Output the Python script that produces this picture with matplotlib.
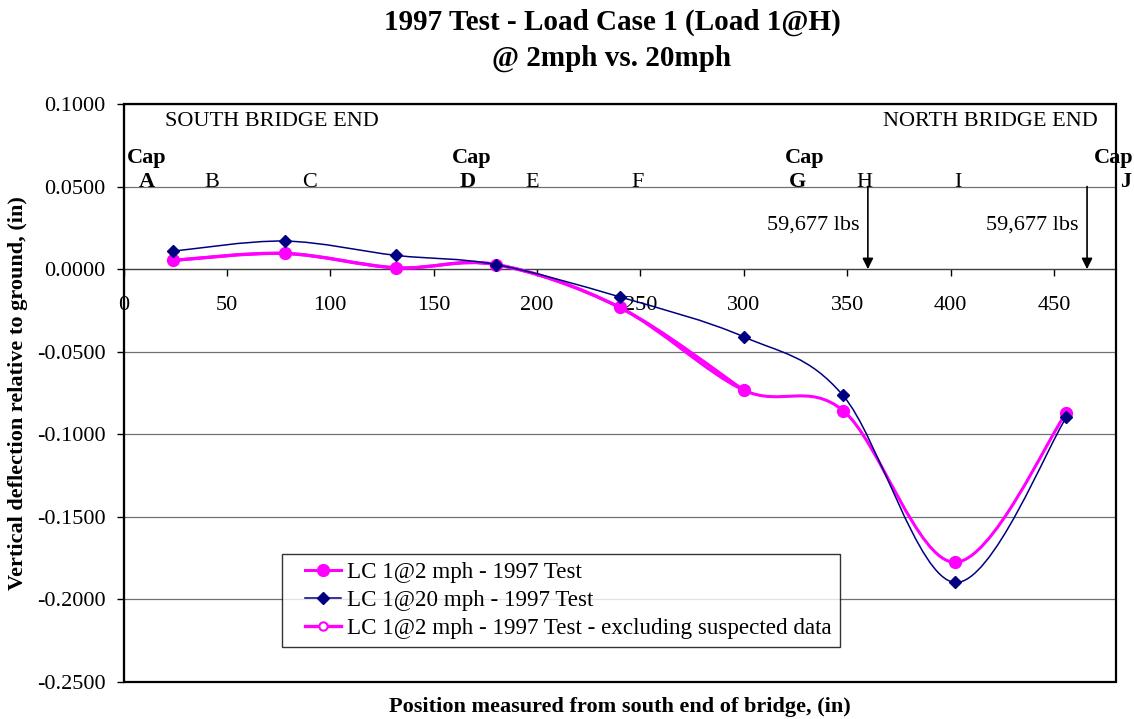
import numpy as np
import matplotlib
matplotlib.use('Agg')
import matplotlib.pyplot as plt
from matplotlib.path import Path
from matplotlib.patches import PathPatch, Rectangle
from matplotlib.lines import Line2D
from matplotlib.legend_handler import HandlerLine2D
from matplotlib.ticker import FuncFormatter, MultipleLocator

plt.rcParams['font.family'] = ['Liberation Serif', 'DejaVu Serif']

# data
pos = [24, 78, 132, 180, 240, 300, 348, 402, 456]
lc_2mph = [0.0053, 0.0095, 0.0008, 0.0028, -0.0232, -0.0733, -0.0856, -0.1775, -0.0870]
lc_20mph = [0.0109, 0.0170, 0.0083, 0.0028, -0.0168, -0.0410, -0.0765, -0.1897, -0.0898]
pos_excl = [24, 78, 132, 180, 240, 300]
lc_2mph_excl = [0.0053, 0.0095, 0.0008, 0.0028, -0.0232, -0.0733]

# support / station labels along the bridge
cap_x = [11.4, 168.2, 329.4, 479.0]
stations = ['A', 'B', 'C', 'D', 'E', 'F', 'G', 'H', 'I', 'J']
station_x = [11.4, 42.8, 89.8, 166.7, 197.7, 248.5, 326.0, 358.4, 403.4, 484.8]
cap_stations = ['A', 'D', 'G', 'J']
load_x = [360, 466]
load_text = '59,677 lbs'

MAGENTA = '#FF00FF'
NAVY = '#000080'


def smooth_path(x, y):
    # excel-like smoothed line: cubic bezier through the points
    p = np.column_stack([x, y]).astype(float)
    verts = [p[0]]
    codes = [Path.MOVETO]
    n = len(p)
    for i in range(n - 1):
        p0 = p[i - 1] if i > 0 else p[i]
        p1, p2 = p[i], p[i + 1]
        p3 = p[i + 2] if i + 2 < n else p[i + 1]
        verts += [p1 + (p2 - p0) / 6, p2 - (p3 - p1) / 6, p2]
        codes += [Path.CURVE4] * 3
    return Path(verts, codes)


fig = plt.figure(figsize=(11.34, 7.19), dpi=100)
ax = fig.add_axes([123.5 / 1134, 37 / 719, (1116 - 123.5) / 1134, 578 / 719])

ax.set_xlim(0, 480)
ax.set_ylim(-0.25, 0.1)

# series 3 (under), series 1, series 2
ax.add_patch(PathPatch(smooth_path(pos_excl, lc_2mph_excl), fill=False,
                       ec=MAGENTA, lw=2.4, zorder=3))
ax.plot(pos_excl, lc_2mph_excl, ls='none', marker='o', ms=6, mfc='white',
        mec=MAGENTA, mew=1.5, zorder=3)
ax.add_patch(PathPatch(smooth_path(pos, lc_2mph), fill=False,
                       ec=MAGENTA, lw=2.2, zorder=4))
ax.plot(pos, lc_2mph, ls='none', marker='o', ms=8.5, color=MAGENTA, zorder=4)
ax.add_patch(PathPatch(smooth_path(pos, lc_20mph), fill=False,
                       ec=NAVY, lw=1.1, zorder=5))
ax.plot(pos, lc_20mph, ls='none', marker='D', ms=6, color=NAVY, zorder=5)

# axes styling
ax.yaxis.set_major_locator(MultipleLocator(0.05))
ax.yaxis.set_major_formatter(FuncFormatter(lambda v, _: f'{v:.4f}'))
ax.xaxis.set_major_locator(MultipleLocator(50))
ax.xaxis.set_major_formatter(FuncFormatter(lambda v, _: f'{v:.0f}' if v < 460 else ''))
ax.yaxis.grid(True, color='#707070', lw=0.9)
ax.set_axisbelow(True)
for s in ['top', 'right']:
    ax.spines[s].set_visible(False)
ax.spines['left'].set_linewidth(1.5)
ax.spines['bottom'].set_position(('data', 0))
ax.spines['bottom'].set_linewidth(0.9)
ax.spines['bottom'].set_color('#404040')
ax.add_patch(Rectangle((0, 0), 1, 1, transform=ax.transAxes, fill=False,
                       lw=1.6, ec='black', clip_on=False, zorder=6))
ax.tick_params(axis='y', direction='out', length=5, width=1, pad=8, labelsize=16)
ax.tick_params(axis='x', direction='out', length=5, width=1, pad=14, labelsize=16)

# annotations
ax.text(20, 0.0896, 'SOUTH BRIDGE END', fontsize=16, ha='left', va='center')
ax.text(471.2, 0.0896, 'NORTH BRIDGE END', fontsize=16, ha='right', va='center')
for cx in cap_x:
    ax.text(cx, 0.0672, 'Cap', fontsize=16, fontweight='bold', ha='center',
            va='center', clip_on=False)
for lab, sx in zip(stations, station_x):
    ax.text(sx, 0.0527, lab, fontsize=16, ha='center', va='center',
            fontweight='bold' if lab in cap_stations else 'normal', clip_on=False)
for lx in load_x:
    ax.annotate('', xy=(lx, 0.0), xytext=(lx, 0.05),
                arrowprops=dict(arrowstyle='-|>', color='black', lw=1.2,
                                mutation_scale=16, shrinkA=0, shrinkB=0))
    ax.text(lx - 4, 0.0267, load_text, fontsize=16, ha='right', va='center')

handles = [
    Line2D([], [], color=MAGENTA, lw=2.2, marker='o', ms=8.5),
    Line2D([], [], color=NAVY, lw=1.1, marker='D', ms=6),
    Line2D([], [], color=MAGENTA, lw=2.4, marker='o', ms=6, mfc='white', mew=1.5),
]
labels = ['LC 1@2 mph - 1997 Test', 'LC 1@20 mph - 1997 Test',
          'LC 1@2 mph - 1997 Test - excluding suspected data']
leg = ax.legend(handles, labels, loc='lower left', bbox_to_anchor=(0.160, 0.060),
                borderaxespad=0, fontsize=16.6, frameon=True, fancybox=False,
                edgecolor='black', handlelength=2.2, handletextpad=0.25,
                labelspacing=0.3, borderpad=0.35,
                handler_map={Line2D: HandlerLine2D(xpad=0.65)})
leg.get_frame().set_linewidth(1.0)
leg.set_zorder(7)

fig.text(612 / 1134, 1 - 22 / 719, '1997 Test - Load Case 1 (Load 1@H)',
         fontsize=21, fontweight='bold', ha='center', va='center')
fig.text(612 / 1134, 1 - 58 / 719, '@ 2mph vs. 20mph',
         fontsize=21, fontweight='bold', ha='center', va='center')
fig.text(620 / 1134, 1 - 707 / 719, 'Position measured from south end of bridge, (in)',
         fontsize=16, fontweight='bold', ha='center', va='center')
fig.text(18 / 1134, 1 - 393 / 719, 'Vertical deflection relative to ground, (in)',
         fontsize=16, fontweight='bold', ha='center', va='center', rotation=90)

fig.savefig('out.png', dpi=100)
